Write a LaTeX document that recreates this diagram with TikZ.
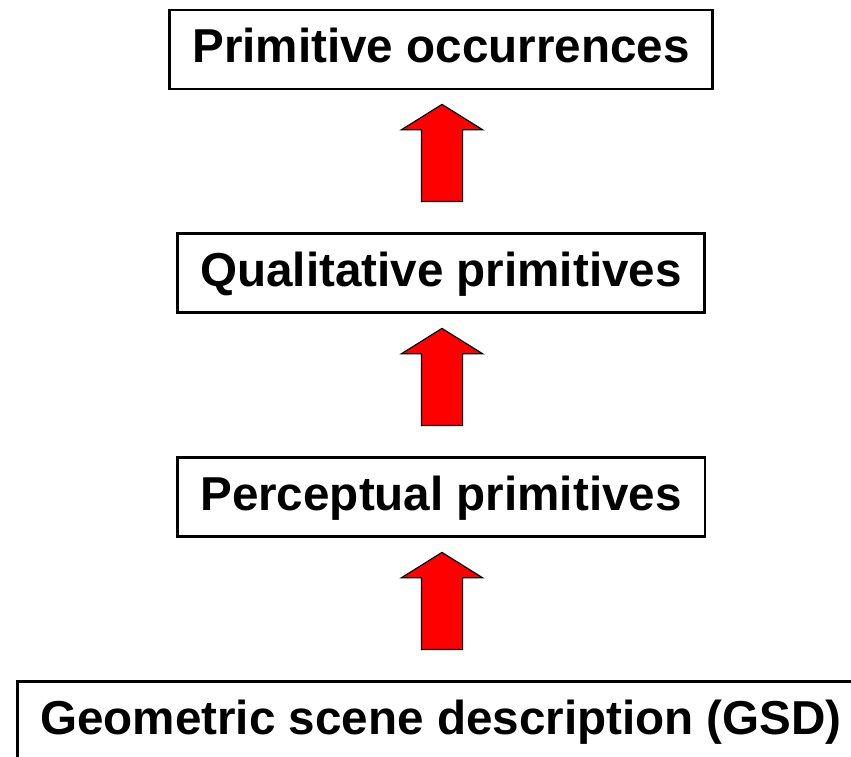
\documentclass[tikz,border=0pt]{standalone}
\usepackage{fontspec}
\setmainfont{Liberation Sans}
\usetikzlibrary{shapes.arrows}
\tikzset{
  level/.style={draw=black,line width=2.5pt,rectangle,fill=white,inner xsep=23pt,
    minimum height=79pt,font=\fontsize{47.6}{57}\selectfont\bfseries,
    text height=35pt,text depth=9pt},
  up arrow/.style={single arrow,draw=black,line width=1.2pt,fill=red,
    shape border rotate=90,minimum width=80pt,single arrow head extend=20pt,
    single arrow tip angle=116,minimum height=97pt,inner sep=20pt,anchor=tail},
}
\begin{document}
\begin{tikzpicture}[x=1pt,y=-1pt]
  \useasboundingbox (0,0) rectangle (851,757);
  \clip (0,0) rectangle (851,757);
  % the four levels, bottom one runs off the page
  \node[level] (occ) at (441,49.5) {Primitive occurrences};
  \node[level] (qual) at (441,273) {Qualitative primitives};
  \node[level] (perc) at (441,497) {Perceptual primitives};
  \node[level] (gsd) at (441,721) {Geometric scene description (GSD)};
  % red block arrows between them
  \node[up arrow] (a1) at (442,202) {};
  \node[up arrow] (a2) at (442,426) {};
  \node[up arrow] (a3) at (442,650) {};
\end{tikzpicture}
\end{document}
